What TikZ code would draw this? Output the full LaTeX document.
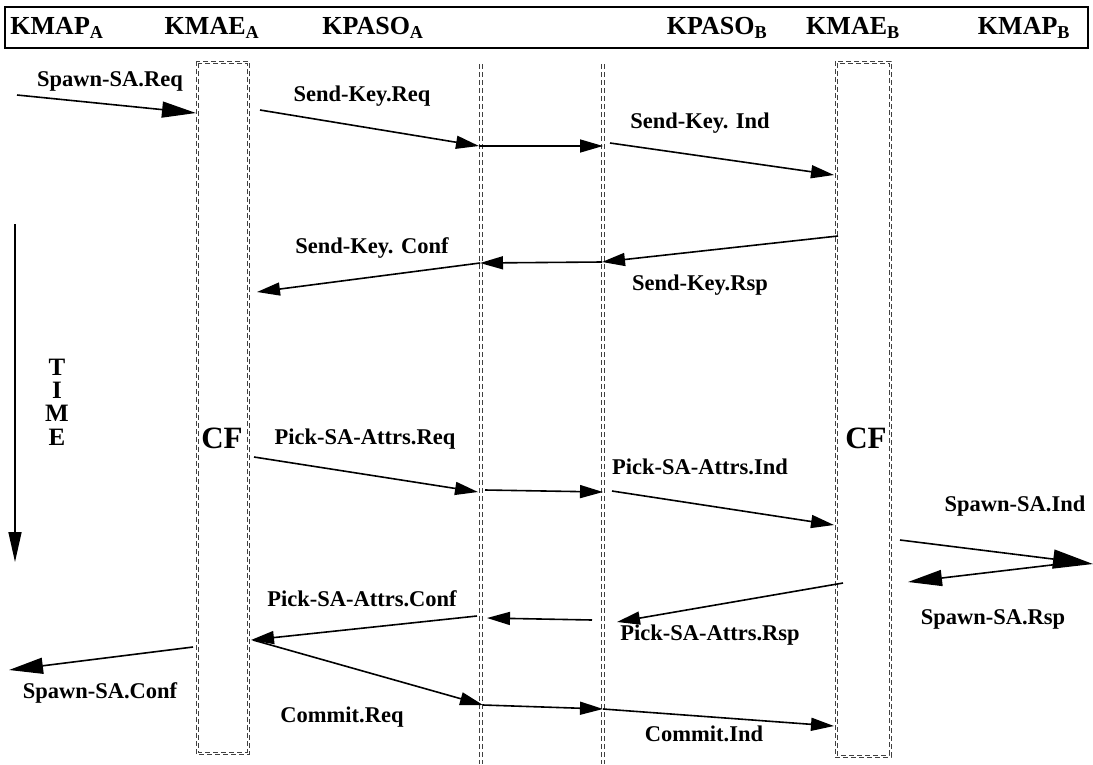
\documentclass[tikz,border=0pt]{standalone}
\usepackage{fontspec}
\setmainfont{Liberation Serif}
\usetikzlibrary{arrows.meta}
\begin{document}
\begin{tikzpicture}[x=1pt,y=-1pt,
  lbl/.style={font=\bfseries\fontsize{22.5}{24}\selectfont, inner sep=0pt},
  hdr/.style={font=\bfseries\fontsize{26}{28}\selectfont, inner sep=0pt},
  tm/.style={font=\bfseries\fontsize{25}{27}\selectfont, inner sep=0pt, text height=16.5pt, text depth=0pt},
  big/.style={font=\bfseries\fontsize{31}{33}\selectfont, inner sep=0pt},
  msg/.style={line width=1.6pt, -{Triangle[length=23pt,width=13pt]}},
  msgL/.style={line width=1.6pt, -{Triangle[length=34pt,width=16pt]}},
  dsh/.style={draw=black!75, line width=0.8pt, dash pattern=on 5pt off 3pt}]
\useasboundingbox (0,0) rectangle (1093,764);

% header bar with the six entity names
\draw[line width=1.6pt] (5,7) rectangle (1088,48);
\node[hdr] (hKMAPa)  at (57,28)   {KMAP\textsubscript{A}};
\node[hdr] (hKMAEa)  at (212,28)  {KMAE\textsubscript{A}};
\node[hdr] (hKPASOa) at (373,28)  {KPASO\textsubscript{A}};
\node[hdr] (hKPASOb) at (717,28)  {KPASO\textsubscript{B}};
\node[hdr] (hKMAEb)  at (853,28)  {KMAE\textsubscript{B}};
\node[hdr] (hKMAPb)  at (1024,28) {KMAP\textsubscript{B}};

% KMAE boxes (double dashed outline)
\draw[dsh] (196,61) rectangle (249,754);
\draw[dsh] (198,63) rectangle (247,752);
\draw[dsh] (835,61) rectangle (891,757);
\draw[dsh] (837,63) rectangle (889,755);
% KPASO lifelines (double dashed)
\draw[dsh] (479.5,64) -- (479.5,764);
\draw[dsh] (482,64) -- (482,764);
\draw[dsh] (601.5,64) -- (601.5,764);
\draw[dsh] (604,64) -- (604,764);

\node[big] (cfA) at (222,438) {CF};
\node[big] (cfB) at (866,438) {CF};

% time axis
\node[tm] (tT) at (57,367) {T};
\node[tm] (tI) at (57,390) {I};
\node[tm] (tM) at (57,413) {M};
\node[tm] (tE) at (57,437) {E};
\coordinate (timeTop) at (15,224);
\coordinate (timeBot) at (15,562);
\draw[line width=1.6pt, -{Triangle[length=30pt,width=13pt]}] (timeTop) -- (timeBot);

% message end points
\coordinate (apReq)   at (17,95);
\coordinate (aeReqIn) at (196,113);
\coordinate (aeSk)    at (260,110);
\coordinate (paSk)    at (479,146);
\coordinate (pbSk)    at (603,146);
\coordinate (pbSkO)   at (610,143);
\coordinate (beSk)    at (834,175);

\coordinate (beRsp)   at (838,236);
\coordinate (pbRsp)   at (602,262);
\coordinate (paRsp)   at (480,263);
\coordinate (aeConf)  at (257,292);

\coordinate (aePick)  at (254,457);
\coordinate (paPick)  at (478,492);
\coordinate (paPickO) at (485,490);
\coordinate (pbPick)  at (603,492);
\coordinate (pbPickO) at (612,491);
\coordinate (bePick)  at (834,525);

\coordinate (beSpawn) at (900,540);
\coordinate (bpSpawn) at (1093,564);
\coordinate (bpRsp)   at (1060,564);
\coordinate (beRspIn) at (908,582);

\coordinate (bePRsp)  at (843,583);
\coordinate (pbPRsp)  at (617,622);
\coordinate (pbPRspO) at (592,620);
\coordinate (paPRsp)  at (487,618);
\coordinate (paPConf) at (477,616);
\coordinate (aePConf) at (251,640);

\coordinate (aeSC)    at (193,647);
\coordinate (apSC)    at (9,670);

\coordinate (aeCom)   at (253,640);
\coordinate (paCom)   at (483,705);
\coordinate (pbCom)   at (603,709);
\coordinate (beCom)   at (834,726);

% messages
\draw[msgL] (apReq) -- (aeReqIn);
\draw[msg]  (aeSk) -- (paSk);
\draw[msg]  (paSk) -- (pbSk);
\draw[msg]  (pbSkO) -- (beSk);

\draw[msg]  (beRsp) -- (pbRsp);
\draw[msg]  (pbRsp) -- (paRsp);
\draw[msg]  (paRsp) -- (aeConf);

\draw[msg]  (aePick) -- (paPick);
\draw[msg]  (paPickO) -- (pbPick);
\draw[msg]  (pbPickO) -- (bePick);

\draw[line width=1.6pt, -{Triangle[length=40pt,width=19pt]}] (beSpawn) -- (bpSpawn);
\draw[msgL] (bpRsp) -- (beRspIn);

\draw[msg]  (bePRsp) -- (pbPRsp);
\draw[msg]  (pbPRspO) -- (paPRsp);
\draw[msg]  (paPConf) -- (aePConf);

\draw[msgL] (aeSC) -- (apSC);

\draw[msg]  (aeCom) -- (paCom);
\draw[msg]  (paCom) -- (pbCom);
\draw[msg]  (pbCom) -- (beCom);

% message labels
\node[lbl] (lSpReq)  at (110,81)  {Spawn-SA.Req};
\node[lbl] (lSkReq)  at (362,96)  {Send-Key.Req};
\node[lbl] (lSkInd)  at (700,123) {Send-Key. Ind};
\node[lbl] (lSkConf) at (372,248) {Send-Key. Conf};
\node[lbl] (lSkRsp)  at (700,285) {Send-Key.Rsp};
\node[lbl] (lPReq)   at (365,439) {Pick-SA-Attrs.Req};
\node[lbl] (lPInd)   at (700,467) {Pick-SA-Attrs.Ind};
\node[lbl] (lSpInd)  at (1015,506) {Spawn-SA.Ind};
\node[lbl] (lSpRsp)  at (993,619) {Spawn-SA.Rsp};
\node[lbl] (lPConf)  at (362,599) {Pick-SA-Attrs.Conf};
\node[lbl] (lPRsp)   at (710,635) {Pick-SA-Attrs.Rsp};
\node[lbl] (lSpConf) at (100,693) {Spawn-SA.Conf};
\node[lbl] (lComReq) at (342,717) {Commit.Req};
\node[lbl] (lComInd) at (704,734) {Commit.Ind};
\end{tikzpicture}
\end{document}
